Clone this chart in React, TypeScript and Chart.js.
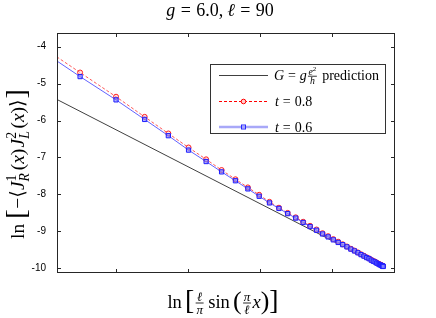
import React, { useEffect, useRef } from "react";
import { Chart, registerables } from "chart.js";

Chart.register(...registerables);

// ---- data ----
const xValues = [
  0.915, 1.2503, 1.4999, 1.6986, 1.8632, 2.0035, 2.1254, 2.2329, 2.3289, 2.4153,
  2.4938, 2.5654, 2.6311, 2.6916, 2.7475, 2.7992, 2.8473, 2.892, 2.9336, 2.9724,
  3.0085, 3.0422, 3.0737, 3.103, 3.1302, 3.1556, 3.1791, 3.201, 3.2211, 3.2397,
  3.2567, 3.2722, 3.2864, 3.2991, 3.3104, 3.3204, 3.3291, 3.3365, 3.3427, 3.3476,
  3.3513, 3.3537, 3.3549,
];
const redValues = [
  -3.82, -4.7, -5.355, -5.9, -6.35, -6.73, -7.05, -7.34, -7.59, -7.81,
  -8.01, -8.2, -8.36, -8.5, -8.62, -8.74, -8.85, -8.95, -9.05, -9.13,
  -9.21, -9.28, -9.35, -9.41, -9.47, -9.52, -9.57, -9.62, -9.66, -9.7,
  -9.73, -9.77, -9.8, -9.82, -9.85, -9.87, -9.89, -9.9, -9.915, -9.925,
  -9.93, -9.935, -9.94,
];
const blueValues = [
  -3.93, -4.81, -5.44, -5.97, -6.41, -6.8, -7.11, -7.39, -7.63, -7.85,
  -8.05, -8.23, -8.38, -8.52, -8.64, -8.76, -8.87, -8.97, -9.07, -9.15,
  -9.23, -9.3, -9.36, -9.42, -9.48, -9.53, -9.58, -9.63, -9.67, -9.71,
  -9.74, -9.78, -9.81, -9.83, -9.86, -9.88, -9.9, -9.91, -9.925, -9.935,
  -9.94, -9.945, -9.95,
];
const predX = [0.915, 3.3549];
const predY = [-5.08, -9.96];
const xTicks = [1.5, 2, 2.5, 3];
const yTicks = [-4, -5, -6, -7, -8, -9, -10];
const xMin = 1.09;
const xMax = 3.43;
const yMin = -10.1;
const yMax = -3.63;

// ---- rich text helpers ----
const fam = '"Liberation Serif", "DejaVu Serif", "DejaVu Sans", serif';
type P = { t: string; it?: boolean; sc?: number; dy?: number };
type I = P | { gap: number } | { frac: [I[], I[]]; sc: number } | { ss: [I[], I[]]; sc: number };

function setFont(ctx: CanvasRenderingContext2D, size: number, it?: boolean) {
  ctx.font = `${it ? "italic " : ""}${size}px ${fam}`;
}
function wAll(ctx: CanvasRenderingContext2D, items: I[], size: number): number {
  let s = 0;
  for (const it of items) s += wOne(ctx, it, size);
  return s;
}
function wOne(ctx: CanvasRenderingContext2D, it: any, size: number): number {
  if ("gap" in it) return it.gap * size;
  if ("frac" in it) {
    const fs = size * it.sc;
    return Math.max(wAll(ctx, it.frac[0], fs), wAll(ctx, it.frac[1], fs)) + 0.24 * size;
  }
  if ("ss" in it) {
    const fs = size * it.sc;
    return Math.max(wAll(ctx, it.ss[0], fs), wAll(ctx, it.ss[1], fs)) + 0.06 * size;
  }
  setFont(ctx, size * (it.sc || 1), it.it);
  return ctx.measureText(it.t).width;
}
function drawAll(ctx: CanvasRenderingContext2D, items: I[], x: number, y: number, size: number) {
  for (const it of items as any[]) {
    const iw = wOne(ctx, it, size);
    if ("frac" in it) {
      const fs = size * it.sc;
      const axis = y - size * 0.27;
      const nw = wAll(ctx, it.frac[0], fs);
      const dw = wAll(ctx, it.frac[1], fs);
      drawAll(ctx, it.frac[0], x + (iw - nw) / 2, axis - size * 0.1, fs);
      drawAll(ctx, it.frac[1], x + (iw - dw) / 2, axis + fs * 0.72 + size * 0.07, fs);
      ctx.beginPath();
      ctx.lineWidth = Math.max(0.8, size * 0.045);
      ctx.moveTo(x + 0.08 * size, axis);
      ctx.lineTo(x + iw - 0.08 * size, axis);
      ctx.stroke();
    } else if ("ss" in it) {
      const fs = size * it.sc;
      drawAll(ctx, it.ss[0], x, y - size * 0.42, fs);
      drawAll(ctx, it.ss[1], x, y + size * 0.24, fs);
    } else if (!("gap" in it)) {
      setFont(ctx, size * (it.sc || 1), it.it);
      ctx.fillText(it.t, x, y + (it.dy || 0) * size);
    }
    x += iw;
  }
}
function drawCentered(ctx: CanvasRenderingContext2D, items: I[], cx: number, y: number, size: number) {
  const w = wAll(ctx, items, size);
  drawAll(ctx, items, cx - w / 2, y, size);
}

const titleItems: I[] = [
  { t: "g", it: true }, { gap: 0.3 }, { t: "=" }, { gap: 0.3 }, { t: "6.0," }, { gap: 0.22 },
  { t: "ℓ", it: true }, { gap: 0.3 }, { t: "=" }, { gap: 0.3 }, { t: "90" },
];
const yLabelItems: I[] = [
  { t: "ln" }, { gap: 0.25 }, { t: "[", sc: 1.45, dy: 0.06 }, { gap: 0.04 }, { t: "−" }, { t: "⟨" },
  { t: "J", it: true }, { ss: [[{ t: "1" }], [{ t: "R", it: true }]], sc: 0.7 }, { gap: 0.08 },
  { t: "(" }, { t: "x", it: true }, { t: ")" }, { gap: 0.06 },
  { t: "J", it: true }, { ss: [[{ t: "2" }], [{ t: "L", it: true }]], sc: 0.7 }, { gap: 0.08 },
  { t: "(" }, { t: "x", it: true }, { t: ")" }, { t: "⟩" }, { gap: 0.04 }, { t: "]", sc: 1.45, dy: 0.06 },
];
const xLabelItems: I[] = [
  { t: "ln" }, { gap: 0.17 }, { t: "[", sc: 1.5, dy: 0.08 },
  { frac: [[{ t: "ℓ", it: true }], [{ t: "π", it: true }]], sc: 0.7 },
  { gap: 0.17 }, { t: "sin" }, { gap: 0.17 }, { t: "(", sc: 1.4, dy: 0.07 },
  { frac: [[{ t: "π", it: true }], [{ t: "ℓ", it: true }]], sc: 0.7 },
  { t: "x", it: true }, { t: ")", sc: 1.4, dy: 0.07 }, { t: "]", sc: 1.5, dy: 0.08 },
];
const legPredItems: I[] = [
  { t: "G", it: true }, { gap: 0.28 }, { t: "=" }, { gap: 0.28 }, { t: "g", it: true },
  { frac: [[{ t: "e", it: true }, { t: "2", sc: 0.7, dy: -0.4 }], [{ t: "h", it: true }]], sc: 0.7 },
  { gap: 0.3 }, { t: "prediction" },
];
const legRedItems: I[] = [
  { t: "t", it: true }, { gap: 0.28 }, { t: "=" }, { gap: 0.28 }, { t: "0.8" },
];
const legBlueItems: I[] = [
  { t: "t", it: true }, { gap: 0.28 }, { t: "=" }, { gap: 0.28 }, { t: "0.6" },
];

const decorPlugin = {
  id: "decor",
  afterDraw(chart: any) {
    const ctx: CanvasRenderingContext2D = chart.ctx;
    const a = chart.chartArea;
    const xs = chart.scales.x;
    const ys = chart.scales.y;
    ctx.save();
    ctx.textAlign = "left";
    ctx.textBaseline = "alphabetic";
    // frame
    ctx.strokeStyle = "#262626";
    ctx.lineWidth = 1;
    const L = Math.round(a.left) + 0.5, R = Math.round(a.right) + 0.5;
    const T = Math.round(a.top) + 0.5, B = Math.round(a.bottom) + 0.5;
    ctx.strokeRect(L, T, R - L, B - T);
    // inward ticks
    ctx.beginPath();
    const tl = 3.5;
    for (const v of xTicks) {
      const px = Math.round(xs.getPixelForValue(v)) + 0.5;
      ctx.moveTo(px, B); ctx.lineTo(px, B - tl);
      ctx.moveTo(px, T); ctx.lineTo(px, T + tl);
    }
    for (const v of yTicks) {
      const py = Math.round(ys.getPixelForValue(v)) + 0.5;
      ctx.moveTo(L, py); ctx.lineTo(L + tl, py);
      ctx.moveTo(R, py); ctx.lineTo(R - tl, py);
    }
    ctx.stroke();

    ctx.fillStyle = "#000";
    ctx.strokeStyle = "#000";
    // title
    drawCentered(ctx, titleItems, 220, 16, 18);
    // x label
    drawCentered(ctx, xLabelItems, 223, 308, 18.5);
    // y label
    ctx.save();
    ctx.translate(24, 164);
    ctx.rotate(-Math.PI / 2);
    drawCentered(ctx, yLabelItems, 0, 0, 19.5);
    ctx.restore();

    // legend
    ctx.fillStyle = "#fff";
    ctx.fillRect(210.5, 64.5, 175, 69);
    ctx.strokeStyle = "#333";
    ctx.lineWidth = 1;
    ctx.strokeRect(210.5, 64.5, 175, 69);
    // row 1
    ctx.beginPath();
    ctx.strokeStyle = "#404040";
    ctx.moveTo(219, 75.5); ctx.lineTo(268, 75.5);
    ctx.stroke();
    // row 2
    ctx.beginPath();
    ctx.setLineDash([3, 2]);
    ctx.lineWidth = 1.2;
    ctx.strokeStyle = "#ff0000";
    ctx.moveTo(219, 101.5); ctx.lineTo(268, 101.5);
    ctx.stroke();
    ctx.setLineDash([]);
    ctx.beginPath();
    ctx.fillStyle = "#ffd0d0";
    ctx.arc(243.5, 101.5, 2.3, 0, Math.PI * 2);
    ctx.fill();
    ctx.lineWidth = 1;
    ctx.strokeStyle = "#ff0000";
    ctx.stroke();
    // row 3
    ctx.beginPath();
    ctx.lineWidth = 2.5;
    ctx.strokeStyle = "#a8a8f8";
    ctx.moveTo(219, 127); ctx.lineTo(268, 127);
    ctx.stroke();
    ctx.lineWidth = 1;
    ctx.strokeStyle = "#2828ff";
    ctx.strokeRect(241.5, 125, 4, 4);

    ctx.fillStyle = "#000";
    ctx.strokeStyle = "#000";
    drawAll(ctx, legPredItems, 274, 80, 14);
    drawAll(ctx, legRedItems, 275, 106, 14);
    drawAll(ctx, legBlueItems, 275, 131.5, 14);
    ctx.restore();
  },
};

export default function App() {
  const ref = useRef<HTMLCanvasElement | null>(null);
  useEffect(() => {
    if (!ref.current) return;
    const toPts = (xs: number[], ys: number[]) => xs.map((x, i) => ({ x, y: ys[i] }));
    const chart = new Chart(ref.current, {
      type: "line",
      data: {
        datasets: [
          {
            label: "t = 0.6",
            data: toPts(xValues, blueValues),
            borderColor: "rgba(70,70,255,0.85)",
            borderWidth: 1,
            pointStyle: "rect",
            pointRadius: 3,
            pointBorderWidth: 1,
            pointBorderColor: "#1e1eff",
            pointBackgroundColor: "rgba(130,130,255,0.6)",
            tension: 0,
          },
          {
            label: "t = 0.8",
            data: toPts(xValues, redValues),
            borderColor: "rgba(255,60,60,0.85)",
            borderWidth: 1,
            borderDash: [3, 2],
            pointStyle: "circle",
            pointRadius: 2.5,
            pointBorderWidth: 1,
            pointBorderColor: "#ff2020",
            pointBackgroundColor: "rgba(255,200,200,0.5)",
            tension: 0,
          },
          {
            label: "prediction",
            data: toPts(predX, predY),
            borderColor: "#404040",
            borderWidth: 1,
            pointRadius: 0,
            tension: 0,
          },
        ],
      },
      options: {
        animation: false,
        responsive: false,
        devicePixelRatio: 1,
        events: [],
        layout: { padding: { left: 0, right: 42, top: 33, bottom: 46 } },
        plugins: { legend: { display: false }, title: { display: false }, tooltip: { enabled: false } },
        scales: {
          x: {
            type: "linear",
            min: xMin,
            max: xMax,
            afterBuildTicks: (s: any) => { s.ticks = xTicks.map((v) => ({ value: v })); },
            afterFit: (s: any) => { s.height = 0; },
            grid: { display: false },
            border: { display: false },
            ticks: {
              autoSkip: false,
              maxRotation: 0,
              padding: 3,
              color: "#000",
              font: { family: '"Liberation Sans", Arial, sans-serif', size: 10 },
              callback: (v: any) => String(v),
            },
          },
          y: {
            type: "linear",
            min: yMin,
            max: yMax,
            afterBuildTicks: (s: any) => { s.ticks = yTicks.map((v) => ({ value: v })); },
            afterFit: (s: any) => { s.width = 57; },
            grid: { display: false },
            border: { display: false },
            ticks: {
              autoSkip: false,
              padding: 3,
              color: "#000",
              font: { family: '"Liberation Sans", Arial, sans-serif', size: 10 },
              callback: (v: any) => String(v),
            },
          },
        },
      },
      plugins: [decorPlugin],
    });
    return () => chart.destroy();
  }, []);
  return (
    <div style={{ position: "fixed", left: 0, top: 0, width: 436, height: 318, background: "#fff" }}>
      <canvas ref={ref} width={436} height={318} style={{ display: "block" }} />
    </div>
  );
}
